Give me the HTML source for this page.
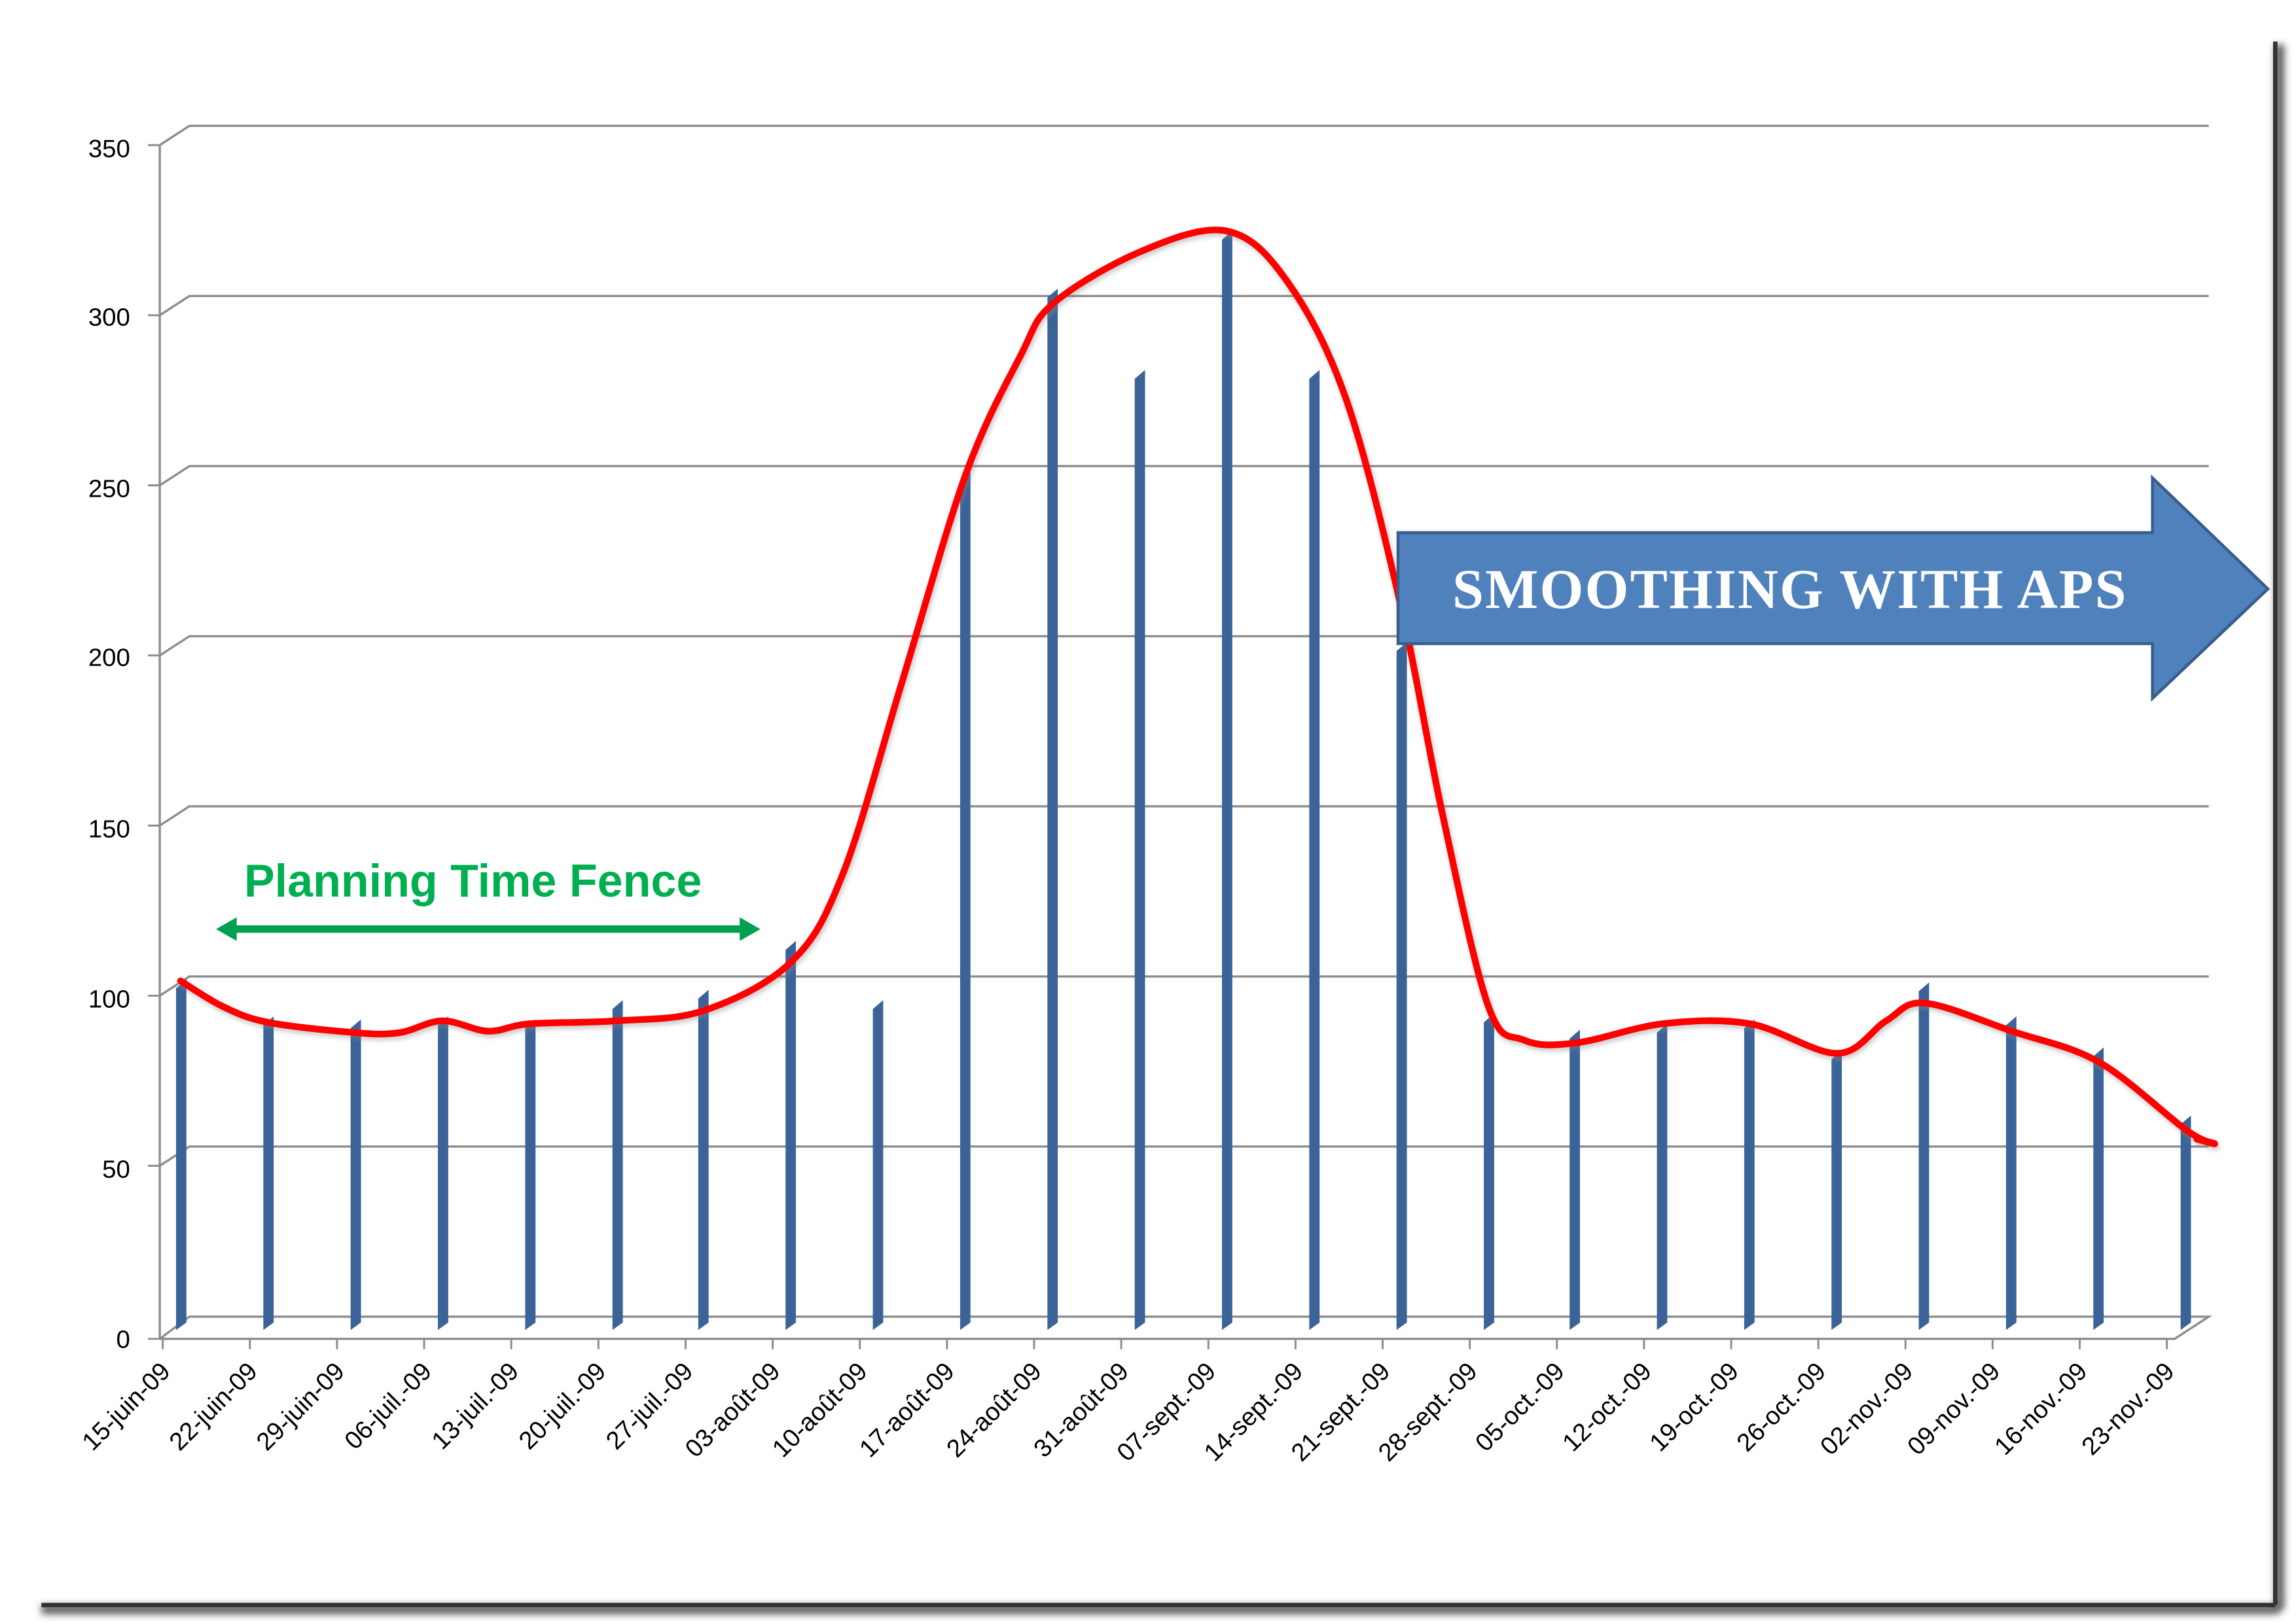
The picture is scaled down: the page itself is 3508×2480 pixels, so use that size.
<!DOCTYPE html>
<html><head><meta charset="utf-8"><style>html,body{margin:0;padding:0;background:#fff}svg{display:block}</style></head>
<body>
<svg width="3508" height="2480" viewBox="0 0 1552 1097" xmlns="http://www.w3.org/2000/svg">
<defs>
<filter id="sh" x="-5%" y="-5%" width="110%" height="110%"><feGaussianBlur stdDeviation="2.5"/></filter>
<filter id="rs" x="-5%" y="-5%" width="110%" height="110%"><feGaussianBlur stdDeviation="1.5"/></filter>
</defs>
<rect width="1552" height="1097" fill="#fff"/>
<g filter="url(#sh)">
<line x1="1541" y1="30" x2="1541" y2="1088" stroke="#555" stroke-width="6"/>
<line x1="28" y1="1088" x2="1541" y2="1088" stroke="#555" stroke-width="6"/>
</g>
<line x1="1538" y1="28" x2="1538" y2="1085" stroke="#333" stroke-width="3"/>
<line x1="28" y1="1085" x2="1538" y2="1085" stroke="#333" stroke-width="3"/>

<g stroke="#8c8c8c" stroke-width="1.5" fill="none">
<polyline points="108,98 128,85 1493,85"/>
<polyline points="108,213 128,200 1493,200"/>
<polyline points="108,328 128,315 1493,315"/>
<polyline points="108,443 128,430 1493,430"/>
<polyline points="108,558 128,545 1493,545"/>
<polyline points="108,673 128,660 1493,660"/>
<polyline points="108,788 128,775 1493,775"/>
<polyline points="108,905 128,890 1493,890 1470,905 108,905"/>
<line x1="108" y1="98" x2="108" y2="905"/>
<path stroke-width="1.3" d="M100,98H108M100,213H108M100,328H108M100,443H108M100,558H108M100,673H108M100,788H108M100,905H108
M110,905V912M168.9,905V912M227.8,905V912M286.7,905V912M345.6,905V912M404.5,905V912M463.4,905V912M522.3,905V912M581.2,905V912M640.1,905V912M699,905V912M757.9,905V912M816.8,905V912M875.7,905V912M934.6,905V912M993.5,905V912M1052.4,905V912M1111.3,905V912M1170.2,905V912M1229.1,905V912M1288,905V912M1346.9,905V912M1405.8,905V912M1464.7,905V912"/>
</g>
<g font-family="Liberation Sans, sans-serif" font-size="17" fill="#000" text-anchor="end">
<text x="88" y="106">350</text><text x="88" y="220">300</text><text x="88" y="336">250</text><text x="88" y="450">200</text><text x="88" y="566">150</text><text x="88" y="681">100</text><text x="88" y="796">50</text><text x="88" y="911">0</text>
</g>

<g fill="#3b6398">
<polygon points="119,668 126,662 126,894 119,899"/>
<polygon points="178,693 185,687 185,894 178,899"/>
<polygon points="237,695 244,689 244,894 237,899"/>
<polygon points="296,693 303,687 303,894 296,899"/>
<polygon points="355,695 362,689 362,894 355,899"/>
<polygon points="414,682 421,676 421,894 414,899"/>
<polygon points="472,675 479,669 479,894 472,899"/>
<polygon points="531,642 538,636 538,894 531,899"/>
<polygon points="590,682 597,676 597,894 590,899"/>
<polygon points="649,325 656,319 656,894 649,899"/>
<polygon points="708,201 715,195 715,894 708,899"/>
<polygon points="767,256 774,250 774,894 767,899"/>
<polygon points="826,162 833,156 833,894 826,899"/>
<polygon points="885,256 892,250 892,894 885,899"/>
<polygon points="944,440 951,434 951,894 944,899"/>
<polygon points="1003,691 1010,685 1010,894 1003,899"/>
<polygon points="1061,702 1068,696 1068,894 1061,899"/>
<polygon points="1120,698 1127,692 1127,894 1120,899"/>
<polygon points="1179,695 1186,689 1186,894 1179,899"/>
<polygon points="1238,716 1245,710 1245,894 1238,899"/>
<polygon points="1297,670 1304,664 1304,894 1297,899"/>
<polygon points="1356,693 1363,687 1363,894 1356,899"/>
<polygon points="1415,714 1422,708 1422,894 1415,899"/>
<polygon points="1474,760 1481,754 1481,894 1474,899"/>
</g>

<g font-family="Liberation Sans, sans-serif" font-size="17" fill="#000" text-anchor="end">
<text transform="translate(116,928) rotate(-45)">15-juin-09</text>
<text transform="translate(174.9,928) rotate(-45)">22-juin-09</text>
<text transform="translate(233.8,928) rotate(-45)">29-juin-09</text>
<text transform="translate(292.7,928) rotate(-45)">06-juil.-09</text>
<text transform="translate(351.6,928) rotate(-45)">13-juil.-09</text>
<text transform="translate(410.5,928) rotate(-45)">20-juil.-09</text>
<text transform="translate(469.4,928) rotate(-45)">27-juil.-09</text>
<text transform="translate(528.3,928) rotate(-45)">03-août-09</text>
<text transform="translate(587.2,928) rotate(-45)">10-août-09</text>
<text transform="translate(646.1,928) rotate(-45)">17-août-09</text>
<text transform="translate(705,928) rotate(-45)">24-août-09</text>
<text transform="translate(763.9,928) rotate(-45)">31-août-09</text>
<text transform="translate(822.8,928) rotate(-45)">07-sept.-09</text>
<text transform="translate(881.7,928) rotate(-45)">14-sept.-09</text>
<text transform="translate(940.6,928) rotate(-45)">21-sept.-09</text>
<text transform="translate(999.5,928) rotate(-45)">28-sept.-09</text>
<text transform="translate(1058.4,928) rotate(-45)">05-oct.-09</text>
<text transform="translate(1117.3,928) rotate(-45)">12-oct.-09</text>
<text transform="translate(1176.2,928) rotate(-45)">19-oct.-09</text>
<text transform="translate(1235.1,928) rotate(-45)">26-oct.-09</text>
<text transform="translate(1294,928) rotate(-45)">02-nov.-09</text>
<text transform="translate(1352.9,928) rotate(-45)">09-nov.-09</text>
<text transform="translate(1411.8,928) rotate(-45)">16-nov.-09</text>
<text transform="translate(1470.7,928) rotate(-45)">23-nov.-09</text>
</g>

<g fill="none" stroke-linecap="round" stroke-linejoin="round">
<path d="M122,663 C126.7,665.8 140.2,675.3 150,680 S166,688 181,691 S225.2,696.8 240,698 S260.2,699.3 270,698 S289,690.2 299,690 S320.2,696.7 330,697 S343.5,693.2 358,692 S397.3,691.5 417,690 S456.3,689.7 476,683 S519.3,665.5 535,650 S557.5,621.7 570,590 S596.2,505 610,460 S639.7,356.7 653,320 S680.2,259.2 690,240 S698.5,216.7 712,205 S751.5,178.2 771,170 S812.5,152.7 829,156 S856.5,171 870,190 S897.2,233.3 910,270 S936.2,363.3 947,410 S965.2,505 975,550 S996.8,654.5 1006,680 S1020.2,698.8 1030,703 S1049.3,706.8 1065,705 S1104.3,694.2 1124,692 S1163.3,688.7 1183,692 S1226.7,712.3 1242,712 S1265.2,695.7 1275,690 S1286.8,676.8 1301,678 S1340.3,690.3 1360,697 S1399.3,706.8 1419,718 S1465,754.8 1478,764 S1495.8,772 1497,773 S1487,770.5 1485,770" stroke="#888" stroke-width="5" opacity="0.4" filter="url(#rs)" transform="translate(1,2)"/>
<path d="M122,663 C126.7,665.8 140.2,675.3 150,680 S166,688 181,691 S225.2,696.8 240,698 S260.2,699.3 270,698 S289,690.2 299,690 S320.2,696.7 330,697 S343.5,693.2 358,692 S397.3,691.5 417,690 S456.3,689.7 476,683 S519.3,665.5 535,650 S557.5,621.7 570,590 S596.2,505 610,460 S639.7,356.7 653,320 S680.2,259.2 690,240 S698.5,216.7 712,205 S751.5,178.2 771,170 S812.5,152.7 829,156 S856.5,171 870,190 S897.2,233.3 910,270 S936.2,363.3 947,410 S965.2,505 975,550 S996.8,654.5 1006,680 S1020.2,698.8 1030,703 S1049.3,706.8 1065,705 S1104.3,694.2 1124,692 S1163.3,688.7 1183,692 S1226.7,712.3 1242,712 S1265.2,695.7 1275,690 S1286.8,676.8 1301,678 S1340.3,690.3 1360,697 S1399.3,706.8 1419,718 S1465,754.8 1478,764 S1495.8,772 1497,773 S1487,770.5 1485,770" stroke="#ff0000" stroke-width="4.5"/>
</g>

<polygon points="945,360 1455,360 1455,323 1533,398 1455,472 1455,435 945,435" fill="#4f81bd" stroke="#385d8a" stroke-width="2"/>
<text x="1210" y="411" font-family="Liberation Serif, serif" font-size="38" font-weight="bold" letter-spacing="1" fill="#fff" text-anchor="middle">SMOOTHING WITH APS</text>

<text x="165" y="606" font-family="Liberation Sans, sans-serif" font-weight="bold" font-size="31" fill="#00b050">Planning Time Fence</text>
<line x1="156" y1="628" x2="504" y2="628" stroke="#00a050" stroke-width="5"/>
<polygon points="146,628 160,620 160,636" fill="#00a050"/>
<polygon points="514,628 500,620 500,636" fill="#00a050"/>
</svg>
</body></html>
